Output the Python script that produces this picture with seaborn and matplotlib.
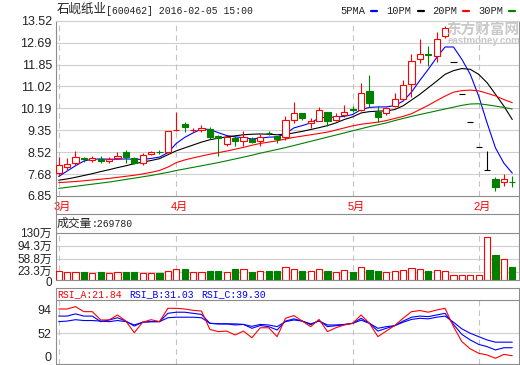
import matplotlib
matplotlib.use("Agg")
import matplotlib.pyplot as plt
import matplotlib.transforms as mtransforms
from matplotlib.lines import Line2D
import numpy as np
import pandas as pd
import seaborn as sns

# daily candles (55 sessions, Mar-May 2015 + Feb 2016)
opens = [7.72, 7.95, 8.10, 8.28, 8.23, 8.27, 8.18, 8.29, 8.51, 8.28,
         8.12, 8.43, 8.54, 8.52, 9.37, 9.60, 9.37, 9.35, 9.40, 9.15,
         8.84, 9.07, 8.94, 9.02, 8.93, 9.26, 9.12, 9.10, 9.73, 9.99,
         9.62, 9.69, 10.05, 9.73, 9.92, 10.16, 10.14, 10.84, 10.05, 10.01,
         10.29, 10.55, 11.12, 12.05, 12.25, 12.16, 12.95, 11.93, 10.74, 9.67,
         8.71, 7.84, 7.49, 7.37, 7.40]
highs = [8.33, 8.29, 8.55, 8.35, 8.38, 8.38, 8.33, 8.52, 8.61, 8.35,
         8.48, 8.58, 8.61, 9.34, 10.04, 9.66, 9.44, 9.57, 9.48, 9.18,
         9.15, 9.15, 9.31, 9.10, 9.22, 9.34, 9.15, 9.88, 10.42, 10.02,
         9.80, 10.24, 10.06, 10.01, 10.33, 10.29, 11.14, 11.44, 10.29, 10.24,
         10.78, 11.25, 12.25, 12.82, 12.56, 13.08, 13.33, 11.93, 10.74, 9.67,
         8.71, 8.57, 7.59, 7.69, 7.62]
lows = [7.62, 7.85, 8.04, 8.16, 8.16, 8.11, 8.12, 8.25, 8.12, 8.07,
        8.04, 8.41, 8.45, 8.48, 9.31, 9.27, 9.27, 9.27, 9.02, 8.38,
        8.76, 8.76, 8.76, 8.87, 8.76, 9.17, 8.87, 8.97, 9.63, 9.73,
        9.45, 9.69, 9.53, 9.69, 9.86, 10.04, 10.08, 10.24, 9.65, 9.95,
        10.24, 10.50, 10.63, 11.90, 11.80, 11.95, 12.88, 11.93, 10.74, 9.67,
        8.71, 7.84, 7.05, 7.24, 7.21]
closes = [8.02, 8.06, 8.33, 8.26, 8.29, 8.18, 8.25, 8.39, 8.32, 8.12,
          8.41, 8.53, 8.51, 9.34, 9.38, 9.48, 9.38, 9.44, 9.10, 9.06,
          9.08, 8.95, 9.10, 8.89, 9.10, 9.24, 9.02, 9.73, 9.99, 9.81,
          9.69, 10.11, 9.69, 9.88, 10.05, 10.12, 10.78, 10.40, 9.85, 10.21,
          10.55, 11.09, 12.00, 12.27, 12.21, 12.82, 13.23, 11.93, 10.74, 9.67,
          8.71, 7.84, 7.18, 7.49, 7.38]

ma5 = [7.59, 7.80, 8.00, 8.18, 8.25, 8.26, 8.25, 8.25, 8.26, 8.25,
       8.24, 8.28, 8.33, 8.50, 8.85, 9.08, 9.25, 9.40, 9.38, 9.26,
       9.15, 9.10, 9.07, 9.02, 9.05, 9.09, 9.10, 9.22, 9.44, 9.53,
       9.63, 9.82, 9.85, 9.85, 9.88, 9.95, 10.14, 10.22, 10.24, 10.24,
       10.29, 10.46, 10.80, 11.25, 11.67, 12.12, 12.52, 12.52, 12.05, 11.48,
       10.65, 9.63, 8.68, 8.10, 7.72]
ma10 = [7.45, 7.50, 7.56, 7.63, 7.70, 7.78, 7.85, 7.93, 8.00, 8.08,
        8.14, 8.20, 8.27, 8.42, 8.57, 8.68, 8.79, 8.90, 8.99, 9.05,
        9.10, 9.14, 9.18, 9.20, 9.21, 9.20, 9.18, 9.20, 9.25, 9.31,
        9.38, 9.45, 9.53, 9.63, 9.76, 9.86, 10.01, 10.06, 10.08, 10.09,
        10.14, 10.28, 10.50, 10.72, 10.97, 11.22, 11.48, 11.62, 11.70, 11.67,
        11.48, 11.16, 10.72, 10.27, 9.76]
ma20 = [7.36, 7.38, 7.40, 7.43, 7.46, 7.49, 7.52, 7.56, 7.60, 7.64,
        7.69, 7.75, 7.82, 7.95, 8.12, 8.22, 8.30, 8.37, 8.44, 8.50,
        8.56, 8.63, 8.70, 8.78, 8.85, 8.90, 8.95, 9.02, 9.08, 9.13,
        9.18, 9.23, 9.28, 9.36, 9.44, 9.52, 9.58, 9.62, 9.66, 9.72,
        9.80, 9.88, 9.98, 10.14, 10.30, 10.48, 10.65, 10.80, 10.86, 10.88,
        10.85, 10.76, 10.66, 10.52, 10.40]
ma30 = [7.14, 7.18, 7.22, 7.26, 7.30, 7.34, 7.38, 7.43, 7.48, 7.53,
        7.58, 7.63, 7.69, 7.75, 7.82, 7.88, 7.94, 8.00, 8.06, 8.12,
        8.19, 8.26, 8.33, 8.40, 8.48, 8.55, 8.62, 8.69, 8.77, 8.85,
        8.93, 9.01, 9.09, 9.17, 9.25, 9.33, 9.41, 9.49, 9.56, 9.63,
        9.72, 9.80, 9.88, 9.95, 10.02, 10.09, 10.16, 10.23, 10.30, 10.35,
        10.36, 10.32, 10.27, 10.22, 10.16]

# volume in 万 (10k shares)
volume = [24.8, 22.0, 22.0, 22.0, 18.4, 22.0, 18.4, 22.0, 22.0, 22.0,
          18.4, 18.4, 19.3, 24.8, 31.1, 29.4, 22.0, 22.0, 24.8, 24.8,
          22.0, 29.4, 29.4, 22.0, 23.9, 24.8, 24.8, 34.9, 29.4, 24.8,
          23.9, 29.4, 24.8, 22.0, 26.7, 22.0, 34.9, 27.5, 24.8, 22.0,
          24.8, 26.7, 32.2, 29.4, 24.8, 26.7, 23.9, 12.9, 12.9, 12.9,
          12.9, 117.4, 68.8, 56.9, 35.8]

rsi_a = [95.8, 95.8, 100, 91, 91, 76, 76, 85, 74, 53,
         72, 76.5, 73, 97, 97, 95.8, 93.4, 92, 59, 55,
         56, 49, 56, 44, 62, 62, 46, 79, 84, 74,
         64, 77, 55, 62, 67, 70, 85, 70, 46, 56,
         66, 79, 91, 93, 90, 94, 97, 64, 37, 24,
         16, 13, 7, 14, 11.6]
rsi_b = [83, 83, 87, 83, 83, 73, 76, 80, 74, 65,
         72, 73, 73, 88, 90, 90, 88, 86, 70, 69,
         69, 67, 68, 61, 66, 64, 58, 74, 78, 74,
         67.5, 75, 64, 65.7, 67.5, 70, 79, 70, 56, 61,
         65.7, 74, 81, 83, 82, 85, 88, 68, 50, 40,
         32, 28, 22, 26, 26]
rsi_c = [73, 74, 76.5, 75, 75, 74, 73, 75, 73, 67,
         72, 73, 73, 80, 81, 81, 81, 80, 70, 69,
         69, 69, 68, 64.5, 68, 67, 64, 73, 76, 74,
         69, 74, 67, 67, 68, 70, 75.6, 70, 61, 64,
         65.7, 72, 77, 79, 78, 81, 83, 72, 60, 52,
         46, 40, 36, 36, 36]

month_labels = ["3月", "4月", "5月", "2月"]
month_pos = [0, 14, 35, 50]
price_ticks = [6.85, 7.68, 8.52, 9.35, 10.19, 11.02, 11.85, 12.69, 13.52]
vol_ticks = [0, 23.3, 58.8, 94.3, 130]
vol_tick_labels = ["0", "23.3万", "58.8万", "94.3万", "130万"]
rsi_ticks = [0, 52, 94]

RED, GREEN, BLUE = "#ff0000", "#008000", "#0000ff"
FRAME, GRID, DASH = "#8c8c8c", "#cfcfcf", "#c4c4c4"

df = pd.DataFrame({"open": opens, "high": highs, "low": lows, "close": closes,
                   "ma5": ma5, "ma10": ma10, "ma20": ma20, "ma30": ma30,
                   "vol": volume, "rsi_a": rsi_a, "rsi_b": rsi_b, "rsi_c": rsi_c})
df["idx"] = np.arange(len(df))

sns.set_style("white")
plt.rcParams["font.family"] = ["Liberation Sans", "Noto Sans CJK SC"]
plt.rcParams["lines.scale_dashes"] = False
MONO = ["Liberation Mono", "Noto Sans CJK SC"]

W, H = 520, 365
fig = plt.figure(figsize=(W / 100, H / 100), dpi=100)


def panel(x0, y0, x1, y1):
    return fig.add_axes([x0 / W, 1 - y1 / H, (x1 - x0) / W, (y1 - y0) / H])


def style(ax, top_color=FRAME, labelsize=9):
    for side in ["left", "right", "bottom"]:
        ax.spines[side].set_color(FRAME)
        ax.spines[side].set_linewidth(0.8)
    ax.spines["top"].set_color(top_color)
    ax.spines["top"].set_linewidth(0.8)
    ax.set_xlim(-0.32, 54.8)
    ax.set_xticks([])
    ax.set_xlabel("")
    ax.set_ylabel("")
    ax.tick_params(axis="y", length=0, pad=3, labelsize=labelsize, colors="#222222")


def ftext(x, y, s, **kw):
    fig.text(x / W, 1 - y / H, s, va="center", **kw)


def nudge(label, dy_px):
    label.set_transform(label.get_transform()
                        + mtransforms.ScaledTranslation(0, dy_px / 100, fig.dpi_scale_trans))


# ---------- price panel ----------
ax_p = panel(56, 20.7, 519, 196)
ax_p.set_ylim(6.85, 13.52)
ax_p.set_yticks(price_ticks, [f"{t:.2f}" for t in price_ticks])
for t in price_ticks[1:-1]:
    ax_p.axhline(t, color=GRID, lw=0.8, zorder=0)
ax_p.vlines(month_pos, 6.85, 13.52, colors=DASH, lw=0.8, linestyles=(0, (4, 3)), zorder=0)

# site watermark
ftext(446, 31, "东方财富网", fontsize=10.5, color="#c8c8c8", fontweight="bold", zorder=0)
ftext(448, 41.5, "eastmoney.com", fontsize=7, color="#c8c8c8", fontweight="bold", zorder=0)

up = df["close"] > df["open"]
down = df["close"] < df["open"]
ccol = np.where(up, RED, np.where(down, GREEN, "black"))
ax_p.vlines(df["idx"], df["low"], df["high"], colors=ccol, lw=0.8, zorder=3)
body_lo = np.minimum(df["open"], df["close"])
body_h = (df["close"] - df["open"]).abs()
ax_p.bar(df["idx"], body_h, bottom=body_lo, width=0.72,
         color=np.where(up, "white", ccol), edgecolor=ccol, linewidth=0.8, zorder=4)

for col, c in [("ma5", BLUE), ("ma10", "black"), ("ma20", RED), ("ma30", GREEN)]:
    sns.lineplot(data=df, x="idx", y=col, color=c, lw=0.8, ax=ax_p, zorder=2, legend=False)
style(ax_p, top_color=GRID)

blend = mtransforms.blended_transform_factory(ax_p.transData, ax_p.transAxes)
for pos, lab in zip(month_pos, month_labels):
    ax_p.text(pos - 0.65, -0.06, lab, transform=blend, color=RED, fontsize=8,
              ha="left", va="center", clip_on=False)

# month strip side borders
for xb in (56, 519):
    fig.add_artist(Line2D([xb / W, xb / W], [1 - 196 / H, 1 - 214 / H], color=FRAME, lw=0.8))

# title + MA legend
ftext(56.5, 10, "石岘纸业", fontsize=9, color="#222222")
ftext(106, 10.5, "[600462] 2016-02-05 15:00", fontsize=7, family=MONO, color="#222222")
legend_items = [("5PMA", 340, BLUE, 371), ("10PM", 386.5, "black", 418),
                ("20PM", 432.5, RED, 463), ("30PM", 478, GREEN, 509)]
for txt, xt, c, xd in legend_items:
    ftext(xt, 10.5, txt, fontsize=7.5, family=MONO, color="#222222")
    fig.add_artist(Line2D([xd / W, (xd + 6) / W], [1 - 11 / H, 1 - 11 / H], color=c, lw=1.6))

# ---------- volume panel ----------
ax_v = panel(56, 214, 519, 280)
ax_v.set_ylim(0, 181.4)
ax_v.set_yticks(vol_ticks, vol_tick_labels)
for t in vol_ticks[1:-1]:
    ax_v.axhline(t, color=GRID, lw=0.8, zorder=0)
ax_v.axhline(130, color=FRAME, lw=0.8, zorder=1)
ax_v.vlines(month_pos, 0, 130, colors=DASH, lw=0.8, linestyles=(0, (4, 3)), zorder=0)
vup = df["close"] >= df["open"]
vcol = np.where(vup, RED, GREEN)
ax_v.bar(df["idx"], df["vol"], width=0.72, color=np.where(vup, "white", GREEN),
         edgecolor=vcol, linewidth=0.8, zorder=3)
style(ax_v, labelsize=8.5)
vlabs = ax_v.get_yticklabels()
nudge(vlabs[0], -2)
nudge(vlabs[1], 1.5)
ftext(57, 224, "成交量", fontsize=8.5, color="#222222")
ftext(92, 224, ":269780", fontsize=7, family=MONO, color="#222222")

# ---------- RSI panel ----------
ax_r = panel(56, 287.5, 519, 364)
ax_r.set_ylim(-3.3, 134.5)
ax_r.set_yticks(rsi_ticks, [str(t) for t in rsi_ticks])
ax_r.axhline(52, color=GRID, lw=0.8, zorder=0)
ax_r.axhline(112, color=FRAME, lw=0.8, zorder=1)
ax_r.vlines(month_pos, -3.3, 112, colors=DASH, lw=0.8, linestyles=(0, (4, 3)), zorder=0)
for col, c in [("rsi_c", BLUE), ("rsi_b", BLUE), ("rsi_a", RED)]:
    sns.lineplot(data=df, x="idx", y=col, color=c, lw=0.8, ax=ax_r, zorder=2, legend=False)
style(ax_r)
nudge(ax_r.get_yticklabels()[0], 6)
ftext(57, 294, "RSI_A:21.84", fontsize=7, family=MONO, color=RED)
ftext(129, 294, "RSI_B:31.03", fontsize=7, family=MONO, color=BLUE)
ftext(201, 294, "RSI_C:39.30", fontsize=7, family=MONO, color=BLUE)

fig.savefig("out.png", dpi=100)
plt.close(fig)
